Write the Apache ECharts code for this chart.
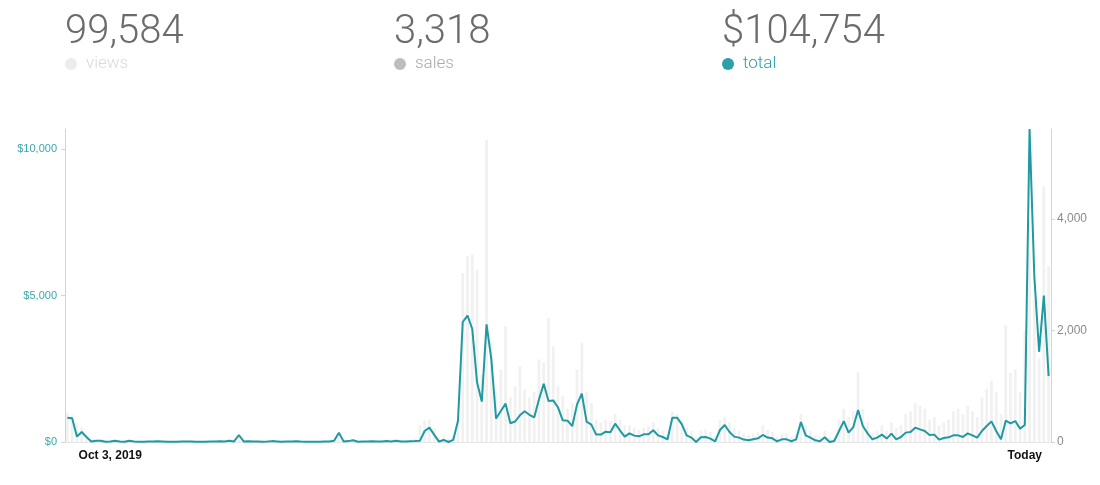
<!DOCTYPE html>
<html><head><meta charset="utf-8">
<script src="https://cdn.jsdelivr.net/npm/echarts@6/dist/echarts.min.js"></script>
<style>html,body{margin:0;padding:0;background:#fff}#c{width:1100px;height:485px}</style>
</head><body><div id="c"></div>
<script>
// Daily totals ($) - left axis
const totalValues = [
 830, 810, 185, 340, 170, 20,
 40, 40, 10, 20, 40, 20, 10, 45, 15, 10, 10, 15, 20, 25, 20, 10, 10, 10, 15, 20, 15, 10, 10, 10, 15, 20, 25, 15, 40, 20,
 240,
 20, 25, 15, 20, 10, 15, 30, 20, 10, 15, 20, 25, 15, 10, 10, 10, 10, 20, 15, 40,
 320,
 20, 30, 60, 10, 15, 20, 25, 15, 20, 30, 20, 40, 15, 20, 25, 30, 40,
 375, 490, 250, 15, 70, 0, 70, 715,
 4100, 4320, 3860, 2040, 1380, 4020, 2830, 800, 1060, 1310, 640, 700, 910, 1050, 930, 840, 1450, 1990, 1400, 1420, 1180, 740, 730, 545, 1285, 1650, 695, 592, 252, 252, 354, 330, 627, 400, 184, 296, 218, 194, 262, 262, 400, 228, 170, 92,
 830, 830, 603, 228, 150, 0, 160, 170, 116, 24, 410, 580, 340, 184, 150, 82, 58, 92, 126, 240, 150, 126, 24, 92, 92, 24, 92, 680,
 228, 150, 58, 24, 160, 0, 34, 375, 715, 320, 511, 1090, 545, 296, 92, 150, 252, 116, 286, 92, 170, 320, 340, 490, 432, 375, 240, 252, 82, 136, 160, 228, 228, 170, 296, 228, 150, 375, 545, 705, 375, 92, 730, 637, 715, 457, 580,
 10692, 5657, 3081, 5000, 2250
];
// Daily views - right axis
const viewsValues = [
 520, 480, 330, 260,
 60, 40, 30, 30, 25, 20, 30, 20, 15, 30, 20, 15, 15, 20, 20, 25, 20, 15, 15, 15, 20, 25, 20, 15, 15, 15, 20, 25, 30, 20, 40, 30,
 120,
 30, 25, 20, 25, 15, 20, 30, 25, 15, 20, 25, 30, 20, 15, 15, 15, 15, 25, 20, 40,
 140,
 30, 30, 50, 20, 20, 25, 30, 20, 25, 30, 25, 40, 30, 25, 40, 60,
 300, 380, 400, 250, 80, 100, 60, 120, 420,
 3030, 3330, 3360, 3090, 1200, 5415, 1800, 900, 1300, 2075, 800, 1000, 1360, 940, 800, 900, 1480, 1425, 2225, 1717, 1000, 823, 600, 700, 1300, 1780, 900, 700, 400, 350, 400, 380, 500, 400, 300,
 300, 250, 220, 260, 280, 350, 250, 200, 150,
 550, 500, 400, 250, 200, 100, 200, 220, 180, 100,
 400, 450, 350, 250, 200, 150, 120, 150, 180,
 300, 220, 180, 100, 150, 150, 100, 150,
 500, 300, 200, 120, 100, 200, 80, 100,
 400, 600, 450, 550, 1250, 600, 350,
 150, 200, 300, 200, 350, 250, 300, 500, 550, 700, 650, 600, 400, 450,
 300, 350, 400, 550, 600, 500, 650, 550, 450, 800, 950, 1100, 900, 500,
 2100, 1240, 1300, 900, 2000, 3400, 2550, 1500, 4580, 3150
];
const categories = totalValues.map((_, i) => 'day ' + (i + 1));
const xTickLabels = { 9: 'Oct 3, 2019', 201: 'Today' };
const leftTicks = [0, 5000, 10000];
const rightTicks = [0, 2000, 4000];
const stats = [
  { value: '99,584', name: 'views', dot: '#ececec', text: '#d9d9d9', x: 66 },
  { value: '3,318', name: 'sales', dot: '#bdbdbd', text: '#a9a9a9', x: 395 },
  { value: '$104,754', name: 'total', dot: '#2ba0a8', text: '#2ba0a8', x: 723 }
];

const TEAL = '#1f9aa1';
const chart = echarts.init(document.getElementById('c'), null, { renderer: 'canvas' });

const graphics = [];
stats.forEach(s => {
  graphics.push({ type: 'text', x: s.x - 1, y: 33, style: { text: s.value, fill: '#6b6b6b', font: '300 40px Roboto', verticalAlign: 'middle' } });
  graphics.push({ type: 'circle', shape: { cx: s.x + 5, cy: 64, r: 6 }, style: { fill: s.dot } });
  graphics.push({ type: 'text', x: s.x + 20, y: 64, style: { text: s.name, fill: s.text, font: '300 17px Roboto', verticalAlign: 'middle' } });
});

chart.setOption({
  animation: false,
  backgroundColor: '#fff',
  graphic: graphics,
  grid: { left: 65, right: 49, top: 129, bottom: 43 },
  xAxis: {
    type: 'category',
    data: categories,
    boundaryGap: true,
    axisLine: { show: true, lineStyle: { color: '#e6e6e6' } },
    axisTick: { show: false },
    axisLabel: {
      interval: 0,
      formatter: (v, i) => xTickLabels[i] || '',
      color: '#111', fontWeight: 'bold', fontSize: 12, fontFamily: 'Liberation Sans', margin: 8
    }
  },
  yAxis: [
    {
      type: 'value', position: 'left', min: 0, max: 10692,
      axisLine: { show: true, lineStyle: { color: '#d4d4d4' } },
      axisTick: { show: true, length: 4, lineStyle: { color: '#d4d4d4' }, customValues: leftTicks },
      axisLabel: { customValues: leftTicks, color: '#3aa8ae', fontSize: 11, fontFamily: 'Liberation Sans', margin: 8,
        formatter: v => '$' + Number(v).toLocaleString('en-US') },
      splitLine: { show: false }
    },
    {
      type: 'value', position: 'right', min: 0, max: 5612,
      axisLine: { show: true, lineStyle: { color: '#d4d4d4' } },
      axisTick: { show: true, length: 4, lineStyle: { color: '#d4d4d4' }, customValues: rightTicks },
      axisLabel: { customValues: rightTicks, color: '#8a8a8a', fontSize: 12, fontFamily: 'Liberation Sans', margin: 6,
        formatter: v => Number(v).toLocaleString('en-US') },
      splitLine: { show: false }
    }
  ],
  series: [
    { name: 'views', type: 'bar', yAxisIndex: 1, data: viewsValues, barWidth: 2.8,
      itemStyle: { color: '#f1f1f1' }, silent: true, z: 1 },
    { name: 'total', type: 'line', yAxisIndex: 0, data: totalValues, showSymbol: false,
      lineStyle: { color: TEAL, width: 2 }, itemStyle: { color: TEAL }, z: 3 }
  ]
});
</script></body></html>
